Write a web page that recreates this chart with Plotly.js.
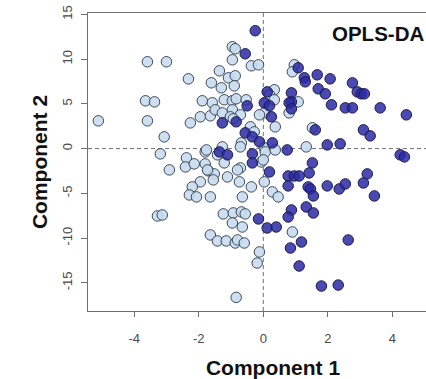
<!DOCTYPE html>
<html>
<head>
<meta charset="utf-8">
<script src="https://cdn.plot.ly/plotly-3.0.1.min.js"></script>
<style>
html, body { margin: 0; padding: 0; overflow: hidden; background: #fff; width: 426px; height: 379px; }
#chart { width: 458px; height: 379px; }
</style>
</head>
<body>
<div id="chart"></div>
<script>
// Group 1 (light blue) – Component 1 / Component 2 scores
const group1X = [-5.11,-3.59,-3.00,-3.65,-3.37,-3.59,-3.07,-3.19,-2.91,-3.28,-3.13,-2.32,-2.26,-1.95,-1.89,-1.64,-2.38,-2.41,-2.14,-1.80,
  -1.80,-1.70,-1.95,-2.20,-2.29,-2.07,-1.64,-1.64,-0.96,-0.87,-0.96,-0.37,-0.15,-1.36,-1.08,-0.87,-1.61,-1.30,-0.90,-1.58,
  -1.21,-0.96,-0.84,-1.49,-0.96,-1.27,-1.02,-0.71,-0.93,-0.40,-0.28,-0.68,-1.76,-1.27,-1.42,-0.71,0.03,0.06,-0.06,-1.21,
  -1.11,-0.71,-1.52,-1.55,-0.80,-0.74,-0.37,-1.73,-0.65,-1.24,-0.93,-0.68,-0.56,-0.96,-0.65,-1.42,-1.15,-0.87,-0.80,-0.59,
  -0.12,-0.19,-0.84,0.28,0.46,0.90,0.34,0.19,0.34,0.80,0.03,-0.12,0.37,1.52,1.33,0.37,0.96,0.90,1.08,0.03,0.00,-0.53];
const group1Y = [3.10,9.70,9.70,5.34,5.22,3.10,1.31,-0.59,-2.38,-7.53,-7.42,7.79,2.87,3.55,5.34,3.66,-1.04,-2.05,-1.71,-0.37,
  -1.71,-2.49,-3.72,-4.28,-5.18,-5.40,-5.40,-9.65,11.38,11.15,9.92,9.25,9.36,8.69,7.91,8.13,7.35,6.79,7.01,5.12,
  5.45,5.34,5.56,4.33,4.33,3.99,3.55,3.77,3.32,2.43,1.87,0.64,-0.15,0.19,-0.70,0.19,0.08,-0.37,-1.49,-1.60,
  -3.17,-2.16,-2.83,-3.50,-2.38,-3.72,-4.28,-2.38,-5.40,-7.30,-7.19,-7.08,-7.30,-8.31,-8.76,-10.32,-10.32,-10.55,-10.21,-10.55,
  -11.55,-12.79,-16.63,-4.84,-5.40,-9.32,6.57,6.01,5.45,3.99,3.99,3.77,2.43,2.32,0.19,-0.15,9.36,8.58,5.22,-3.72,-1.26,5.45];

// Group 2 (dark blue)
const group2X = [-0.25,-0.56,1.08,1.27,1.30,1.67,2.07,2.76,1.70,1.92,2.91,3.03,3.13,2.11,2.54,2.76,3.62,4.43,0.12,0.87,
  0.87,0.80,0.87,0.03,0.19,-0.50,-1.27,-0.84,-0.56,-0.34,-0.12,0.28,1.61,3.10,3.31,-1.36,-0.34,-1.11,0.74,1.98,
  2.38,4.24,4.37,1.52,0.19,0.77,0.96,1.11,1.42,3.22,-0.34,0.77,1.39,1.46,1.55,1.98,2.35,2.54,3.10,3.44,
  0.87,1.33,1.55,0.77,0.12,0.40,1.18,0.84,2.63,1.11,1.80,2.32,-0.15,0.25];
const group2Y = [13.17,10.59,9.03,7.91,7.46,8.24,7.79,7.34,6.68,6.12,6.34,6.12,6.12,4.89,4.55,4.55,4.55,3.77,6.34,6.23,
  5.22,5.11,4.44,5.11,4.78,4.78,2.87,2.99,1.76,1.31,0.75,0.64,2.09,2.09,1.42,-0.37,-0.59,-0.70,-0.15,0.41,
  0.53,-0.70,-0.93,-1.60,-2.61,-3.06,-3.06,-3.06,-2.72,-2.83,-1.60,-4.17,-4.28,-4.51,-5.29,-4.17,-4.51,-3.95,-3.84,-5.29,
  -6.86,-6.52,-7.19,-7.64,-8.87,-8.76,-10.44,-11.11,-10.21,-13.12,-15.36,-15.25,-7.86,3.55];

const xTicks = [-4, -2, 0, 2, 4];
const yTicks = [-15, -10, -5, 0, 5, 10, 15];
const chartTitle = 'OPLS-DA';
const xTitle = 'Component 1';
const yTitle = 'Component 2';

const FONT = '"Liberation Sans", Arial, Helvetica, sans-serif';
const AX = '#707070';

const traces = [
  {
    type: 'scatter', mode: 'markers', x: group1X, y: group1Y, name: 'Group 1',
    marker: { size: 10.5, color: 'rgba(200,219,240,0.9)', line: { color: '#3c4a58', width: 1 } },
    hoverinfo: 'x+y'
  },
  {
    type: 'scatter', mode: 'markers', x: group2X, y: group2Y, name: 'Group 2',
    marker: { size: 10.5, color: 'rgba(42,42,165,0.85)', line: { color: '#1c1c4c', width: 1 } },
    hoverinfo: 'x+y'
  }
];

const layout = {
  width: 458, height: 379,
  margin: { l: 88, r: 0, t: 13, b: 68 },
  paper_bgcolor: '#fff', plot_bgcolor: '#fff',
  showlegend: false,
  font: { family: FONT, color: '#444' },
  xaxis: {
    range: [-5.43, 6.03], tickvals: xTicks, ticktext: xTicks.map(String),
    showgrid: false, zeroline: false,
    showline: true, linecolor: AX, linewidth: 1, mirror: true,
    ticks: 'outside', ticklen: 5, tickcolor: AX, tickwidth: 1,
    tickfont: { size: 13, color: '#4a4a4a', family: FONT },
    ticklabelstandoff: 10,
    title: { text: '<b>' + xTitle + '</b>', font: { size: 21, color: '#111', family: FONT }, standoff: 15 }
  },
  yaxis: {
    range: [-18.15, 15.15], tickvals: yTicks, ticktext: yTicks.map(String),
    showgrid: false, zeroline: false,
    showline: true, linecolor: AX, linewidth: 1, mirror: false,
    ticks: 'outside', ticklen: 6, tickcolor: AX, tickwidth: 1, tickangle: -90,
    tickfont: { size: 13, color: '#4a4a4a', family: FONT },
    ticklabelstandoff: 4,
    title: { text: '<b>' + yTitle + '</b>', font: { size: 21, color: '#111', family: FONT }, standoff: 6 }
  },
  shapes: [
    { type: 'line', xref: 'x', yref: 'paper', x0: 0, x1: 0, y0: 0, y1: 1,
      line: { color: AX, width: 1, dash: '4px,3px' }, layer: 'below' },
    { type: 'line', xref: 'paper', yref: 'y', x0: 0, x1: 1, y0: 0, y1: 0,
      line: { color: AX, width: 1, dash: '4px,3px' }, layer: 'below' }
  ],
  annotations: [
    { text: '<b>' + chartTitle + '</b>', xref: 'paper', yref: 'paper',
      x: (426 - 88) / 370, y: 1 - (33 - 13) / 298, xanchor: 'right', yanchor: 'middle',
      showarrow: false, font: { size: 20.5, color: '#111', family: FONT } }
  ]
};

Plotly.newPlot('chart', traces, layout, { displayModeBar: false, staticPlot: true });
</script>
</body>
</html>
